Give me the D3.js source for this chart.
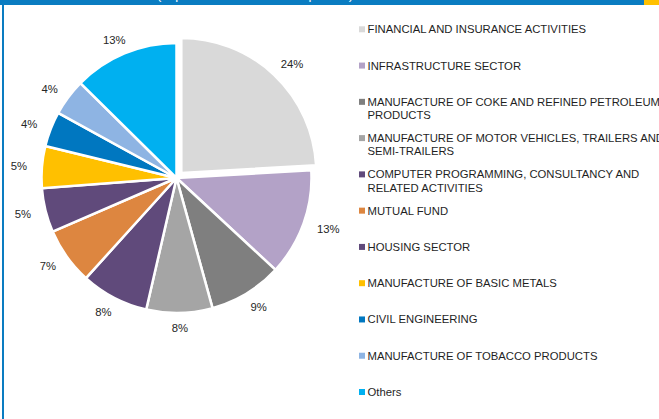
<!DOCTYPE html>
<html><head><meta charset="utf-8">
<script src="https://cdn.jsdelivr.net/npm/d3@7"></script>
<style>
html,body{margin:0;padding:0;background:#fff;overflow:hidden}
svg{display:block}
text{font-family:"Liberation Sans",Arial,sans-serif}
</style></head>
<body>
<svg id="chart" width="659" height="419"></svg>
<script>
const title = "(Top 10 Sectors – % of Exposure)";
const categories = [
  "FINANCIAL AND INSURANCE ACTIVITIES",
  "INFRASTRUCTURE SECTOR",
  "MANUFACTURE OF COKE AND REFINED PETROLEUM PRODUCTS",
  "MANUFACTURE OF MOTOR VEHICLES, TRAILERS AND SEMI-TRAILERS",
  "COMPUTER PROGRAMMING, CONSULTANCY AND RELATED ACTIVITIES",
  "MUTUAL FUND",
  "HOUSING SECTOR",
  "MANUFACTURE OF BASIC METALS",
  "CIVIL ENGINEERING",
  "MANUFACTURE OF TOBACCO PRODUCTS",
  "Others"
];
const values = [24.1, 12.8, 8.8, 7.9, 8.1, 6.8, 5.3, 5.0, 4.2, 4.4, 12.6];
const colors = ["#d9d9d9","#b3a2c7","#7f7f7f","#a5a5a5","#604a7b","#dd8640","#604a7b","#ffc000","#0077c0","#8eb4e3","#00b0f0"];

const svg = d3.select("#chart");
const W = 659, H = 419;

// frame
svg.append("rect").attr("x",0).attr("y",0).attr("width",W).attr("height",5).attr("fill","#0a7cc1");
svg.append("rect").attr("x",644).attr("y",0).attr("width",15).attr("height",5).attr("fill","#ffc000");
svg.append("rect").attr("x",2).attr("y",0).attr("width",2).attr("height",H).attr("fill","#0a7cc1");
svg.append("text").attr("x",157).attr("y",-1.5).attr("fill","#fff").attr("font-size",12)
  .attr("textLength",196).attr("lengthAdjust","spacingAndGlyphs").text(title);

// pie
const cx = 176.5, cy = 178, R = 135;
const pie = d3.pie().sort(null).value(d => d).startAngle(0).endAngle(2*Math.PI);
const arcs = pie(values);
const arc = d3.arc().innerRadius(0).outerRadius(R);
const explode = [7,0,0,0,0,0,0,0,0,0,0];
const total = d3.sum(values);

const g = svg.append("g").attr("transform", `translate(${cx},${cy})`);
arcs.forEach((a,i) => {
  const mid = (a.startAngle + a.endAngle)/2;
  const ux = Math.sin(mid), uy = -Math.cos(mid);
  const ox = ux*explode[i], oy = uy*explode[i];
  g.append("path").attr("d", arc(a)).attr("transform", `translate(${ox},${oy})`)
    .attr("fill", colors[i]).attr("stroke","#fff").attr("stroke-width",2.5).attr("stroke-linejoin","miter");
  const t = g.append("text").attr("font-size","11.3px").attr("fill","#262626")
    .attr("text-anchor","middle").text(Math.round(values[i]/total*100) + "%");
  const tw = t.node().getComputedTextLength();
  const th = 12;
  const rr = R + 9 + explode[i];
  const lx = ux*rr + ux*(tw/2 + 6);
  const ly = uy*rr + uy*(th/2);
  t.attr("x", lx).attr("y", ly + 4.5);
});

// legend
const legend = svg.append("g");
const lx0 = 359, tx0 = 367.5, by0 = 33.3, step = 36.27, lineH = 13.3, maxW = 305;
categories.forEach((name,i) => {
  const by = by0 + step*i;
  legend.append("rect").attr("x",lx0).attr("y",by-7).attr("width",6).attr("height",6).attr("fill",colors[i]);
  const t = legend.append("text").attr("x",tx0).attr("y",by).attr("font-size","11.3px").attr("fill","#1f1f1f");
  const words = name.split(" ");
  let line = [], lineNo = 0;
  let ts = t.append("tspan").attr("x",tx0).attr("y",by);
  words.forEach(w => {
    line.push(w);
    ts.text(line.join(" "));
    if (ts.node().getComputedTextLength() > maxW && line.length > 1) {
      line.pop();
      ts.text(line.join(" "));
      line = [w];
      lineNo++;
      ts = t.append("tspan").attr("x",tx0).attr("y",by + lineNo*lineH).text(w);
    }
  });
});
</script>
</body></html>
